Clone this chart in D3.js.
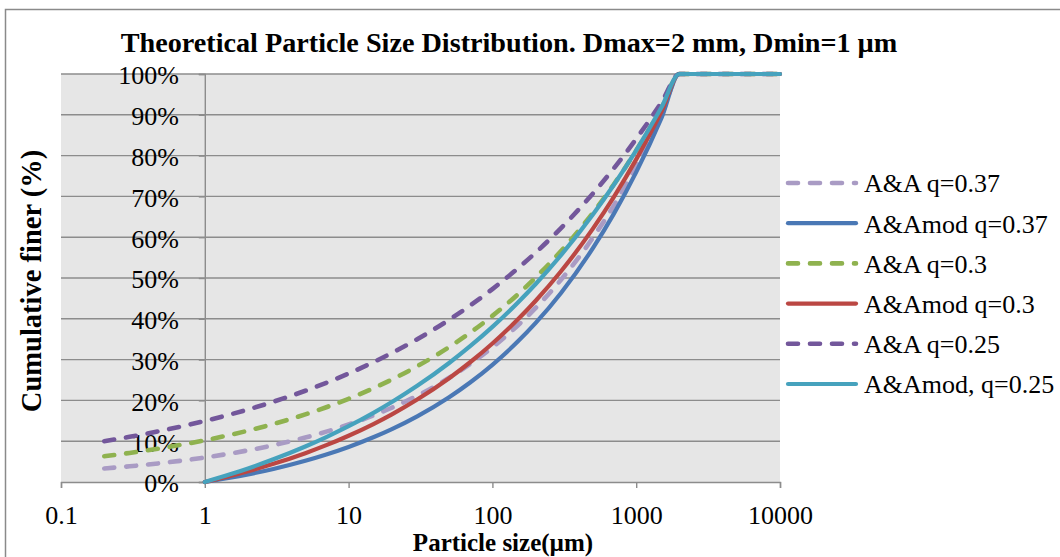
<!DOCTYPE html>
<html><head><meta charset="utf-8">
<script src="https://cdn.jsdelivr.net/npm/d3@7"></script>
<style>body{margin:0;background:#fff} svg{display:block}</style>
</head><body><svg id="c" width="1060" height="557"></svg>
<script>
// Particle sizes (µm)
const sizesAA  = [0.2,0.3,0.5,0.7,1,1.5,2,3,5,7,10,15,20,30,50,70,100,150,200,300,500,700,1000,1500,2000,10000];
const sizesMod = [1,1.5,2,3,5,7,10,15,20,30,50,70,100,150,200,300,500,700,1000,1500,2000,10000];
// Cumulative finer (%)
const aa037  = [3.31,3.85,4.65,5.26,6.01,6.98,7.76,9.02,10.89,12.34,14.08,16.36,18.20,21.14,25.54,28.93,33.01,38.35,42.66,49.57,59.88,67.81,77.38,89.91,100,100];
const mod037 = [0,1.03,1.87,3.20,5.20,6.74,8.59,11.02,12.97,16.10,20.78,24.39,28.73,34.41,38.99,46.34,57.32,65.77,75.95,89.26,100,100];
const aa030  = [6.31,7.13,8.31,9.19,10.22,11.55,12.59,14.22,16.57,18.33,20.40,23.04,25.12,28.37,33.07,36.58,40.71,45.97,50.12,56.60,65.98,72.99,81.23,91.73,100,100];
const mod030 = [0,1.47,2.63,4.45,7.07,9.03,11.34,14.27,16.59,20.21,25.44,29.35,33.95,39.82,44.43,51.65,62.10,69.90,79.08,90.79,100,100];
const aa025  = [10.00,11.07,12.57,13.68,14.95,16.55,17.78,19.68,22.36,24.32,26.59,29.43,31.62,35.00,39.76,43.25,47.29,52.33,56.23,62.23,70.71,76.91,84.09,93.06,100,100];
const mod025 = [0,1.88,3.33,5.56,8.71,11.02,13.68,17.02,19.60,23.57,29.17,33.28,38.02,43.95,48.54,55.59,65.56,72.86,81.29,91.84,100,100];

const seriesNames = ["A&A q=0.37","A&Amod q=0.37","A&A q=0.3","A&Amod q=0.3","A&A q=0.25","A&Amod, q=0.25"];
const xTicks = [0.1,1,10,100,1000,10000];
const xTickLabels = ["0.1","1","10","100","1000","10000"];
const yTicks = [0,10,20,30,40,50,60,70,80,90,100];

const series = [
  {name:seriesNames[0], x:sizesAA,  y:aa037,  color:"#a99bc4", dash:true},
  {name:seriesNames[1], x:sizesMod, y:mod037, color:"#4a78b5", dash:false},
  {name:seriesNames[2], x:sizesAA,  y:aa030,  color:"#8fb24f", dash:true},
  {name:seriesNames[3], x:sizesMod, y:mod030, color:"#bb4743", dash:false},
  {name:seriesNames[4], x:sizesAA,  y:aa025,  color:"#73579b", dash:true},
  {name:seriesNames[5], x:sizesMod, y:mod025, color:"#46a2bd", dash:false}
];

const svg = d3.select("#c");
const serif = "'Liberation Serif','Times New Roman',serif";
const L = 61, R = 780, T = 74, B = 482;
const x = d3.scaleLog().domain([0.1,10000]).range([L,R]);
const y = d3.scaleLinear().domain([0,100]).range([B,T]);

// outer border
svg.append("rect").attr("x",5.5).attr("y",9.5).attr("width",1100).attr("height",600)
  .attr("fill","#fff").attr("stroke","#8a8a8a").attr("stroke-width",1.5);

// plot area
svg.append("rect").attr("x",L).attr("y",T).attr("width",R-L).attr("height",B-T).attr("fill","#e6e6e6");

// gridlines
svg.append("g").selectAll("line").data(yTicks.filter(d=>d>0)).join("line")
  .attr("x1",L).attr("x2",R).attr("y1",d=>y(d)).attr("y2",d=>y(d))
  .attr("stroke","#8c8c8c").attr("stroke-width",1.4);

// x axis
const xAxis = d3.axisBottom(x).tickValues(xTicks).tickFormat((d,i)=>xTickLabels[i]).tickSize(6).tickPadding(18);
const gx = svg.append("g").attr("transform",`translate(0,${B})`).call(xAxis);
gx.select(".domain").attr("stroke","#8c8c8c").attr("stroke-width",1.4);
gx.selectAll(".tick line").attr("stroke","#8c8c8c").attr("stroke-width",1.4);
gx.selectAll("text").attr("font-family",serif).attr("font-size",26).attr("fill","#000");

// y axis at x = 1
const yAxis = d3.axisLeft(y).tickValues(yTicks).tickFormat(d=>d+"%").tickSize(6).tickPadding(20);
const gy = svg.append("g").attr("transform",`translate(${x(1)},0)`).call(yAxis);
gy.select(".domain").attr("stroke","#8c8c8c").attr("stroke-width",1.4);
gy.selectAll(".tick line").attr("stroke","#8c8c8c").attr("stroke-width",1.4);
gy.selectAll("text").attr("font-family",serif).attr("font-size",26).attr("fill","#000").attr("dy","0.38em");

// lines
const line = d3.line().x(d=>x(d[0])).y(d=>y(d[1])).curve(d3.curveMonotoneX);
series.forEach(s=>{
  svg.append("path").datum(s.x.map((v,i)=>[v,s.y[i]]))
    .attr("d",line).attr("fill","none").attr("stroke",s.color)
    .attr("stroke-width",s.dash?4.6:4.2).attr("stroke-linecap","round").attr("stroke-linejoin","round")
    .attr("stroke-dasharray",s.dash?"10 12":null);
});

// legend
const lg = svg.append("g");
series.forEach((s,i)=>{
  const yy = 183 + i*40.2;
  lg.append("line").attr("x1",788).attr("x2",856).attr("y1",yy).attr("y2",yy)
    .attr("stroke",s.color).attr("stroke-width",s.dash?4.6:4.2).attr("stroke-linecap","round")
    .attr("stroke-dasharray",s.dash?"10 12":null);
  lg.append("text").attr("x",864).attr("y",yy).attr("dy","0.36em")
    .attr("font-family",serif).attr("font-size",26).attr("fill","#000").text(s.name);
});

// titles
svg.append("text").attr("x",509).attr("y",52).attr("text-anchor","middle")
  .attr("font-family",serif).attr("font-weight","bold").attr("font-size",28.2)
  .text("Theoretical Particle Size Distribution. Dmax=2 mm, Dmin=1 µm");
svg.append("text").attr("x",503).attr("y",551).attr("text-anchor","middle")
  .attr("font-family",serif).attr("font-weight","bold").attr("font-size",25)
  .text("Particle size(µm)");
svg.append("text").attr("transform","translate(41,281) rotate(-90)").attr("text-anchor","middle")
  .attr("font-family",serif).attr("font-weight","bold").attr("font-size",28.5)
  .text("Cumulative finer (%)");
</script>
</body></html>
